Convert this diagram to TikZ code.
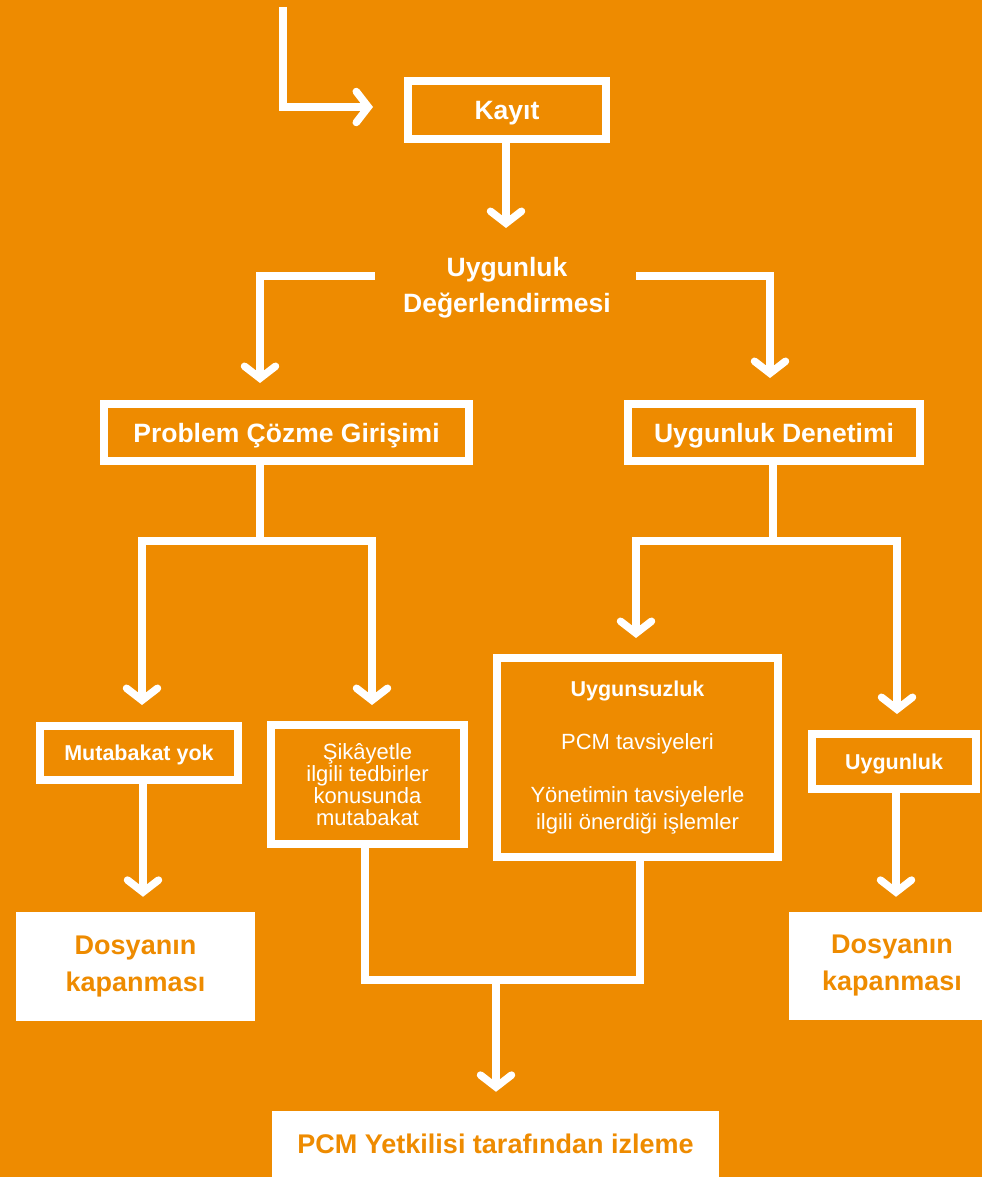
\documentclass[tikz,border=0pt]{standalone}
\usepackage{fontspec}
\setmainfont{Liberation Sans}
\usetikzlibrary{arrows.meta}
\definecolor{bgorange}{RGB}{238,139,0}
\begin{document}
\begin{tikzpicture}[x=1pt,y=-1pt,
  line/.style={draw=white,line width=7.5pt},
  arr/.style={line,-{Straight Barb[length=12pt,width=31pt,line cap=round,line join=miter]}},
  obox/.style={draw=white,line width=8pt,text=white,inner sep=0pt,align=center},
  wbox/.style={fill=white,text=bgorange,inner sep=0pt,align=center,
    font=\fontsize{27}{37}\selectfont\bfseries},
  big/.style={font=\fontsize{26.5}{36}\selectfont\bfseries,text depth=0pt},
  mid/.style={font=\fontsize{21.5}{26}\selectfont\bfseries,text depth=0pt},
  reg/.style={font=\fontsize{22}{22}\selectfont}
]
\useasboundingbox[fill=bgorange] (0,0) rectangle (982,1177);

% nodes
\node[obox,big,minimum width=198pt,minimum height=58pt] (kayit) at (507,110) {Kay\i t};
\node[text=white,big,align=center,inner sep=0pt] (uyg) at (507,285) {Uygunluk\\De\u{g}erlendirmesi};
\node[obox,big,minimum width=365pt,minimum height=57pt] (pcg) at (286.5,432.5) {Problem Çözme Girişimi};
\node[obox,big,minimum width=292pt,minimum height=57pt] (den) at (774,432.5) {Uygunluk Denetimi};
\node[obox,mid,minimum width=198pt,minimum height=54pt] (myok) at (139,753) {Mutabakat yok};
\node[obox,reg,minimum width=193pt,minimum height=119pt] (sik) at (367.5,784.5) {Şikâyetle\\ilgili tedbirler\\konusunda\\mutabakat};
\node[obox,minimum width=281pt,minimum height=199pt,font=\fontsize{22}{27}\selectfont] (uyz) at (637.5,757.5)
  {{\fontsize{21.5}{26}\selectfont\bfseries Uygunsuzluk}\\[26pt]PCM tavsiyeleri\\[26pt]Yönetimin tavsiyelerle\\ilgili önerdiği işlemler};
\node[obox,mid,minimum width=164pt,minimum height=55pt] (uyk) at (894,761.5) {Uygunluk};
\node[wbox,minimum width=239pt,minimum height=109pt] (dos1) at (135.5,966.5) {Dosyan\i n\\kapanmas\i};
\node[wbox,minimum width=206pt,minimum height=108pt] (dos2) at (892,966) {Dosyan\i n\\kapanmas\i};
\node[wbox,minimum width=447pt,minimum height=66pt] (pcm) at (495.5,1144) {PCM Yetkilisi taraf\i ndan izleme};

% free ends / junctions
\coordinate (start) at (283,7);
\coordinate (uygL) at (375,276);
\coordinate (uygR) at (636,276);
\coordinate (fL) at (260,541);
\coordinate (fR) at (773,541);
\coordinate (mb) at (496,980);

% connectors
\draw[arr,shorten >=31pt] (start) |- ([yshift=3pt]kayit.west);
\draw[arr,shorten >=57pt] ([xshift=-1pt]kayit.south) -- ([xshift=-1pt]kayit.south |- uyg.center);
\draw[arr,shorten >=17pt] (uygL) -| ([xshift=-26.5pt]pcg.north);
\draw[arr,shorten >=22pt] (uygR) -| ([xshift=-4pt]den.north);

\draw[line] ([xshift=-26.5pt]pcg.south) -- (fL);
\draw[arr,shorten >=17pt] (fL) -| ([xshift=3pt]myok.north);
\draw[arr,shorten >=16pt] (fL) -| ([xshift=4.5pt]sik.north);

\draw[line] ([xshift=-1pt]den.south) -- (fR);
\draw[arr,shorten >=16pt] (fR) -| ([xshift=-1.5pt]uyz.north);
\draw[arr,shorten >=16pt] (fR) -| ([xshift=3pt]uyk.north);

\draw[arr,shorten >=15pt] ([xshift=4pt]myok.south) -- ([xshift=4pt]myok.south |- dos1.north);
\draw[arr,shorten >=15pt] ([xshift=2pt]uyk.south) -- ([xshift=2pt]uyk.south |- dos2.north);

\draw[line] ([xshift=-2.5pt]sik.south) |- (mb) -| ([xshift=2.5pt]uyz.south);
\draw[arr,shorten >=19pt] (mb) -- (mb |- pcm.north);
\end{tikzpicture}
\end{document}
